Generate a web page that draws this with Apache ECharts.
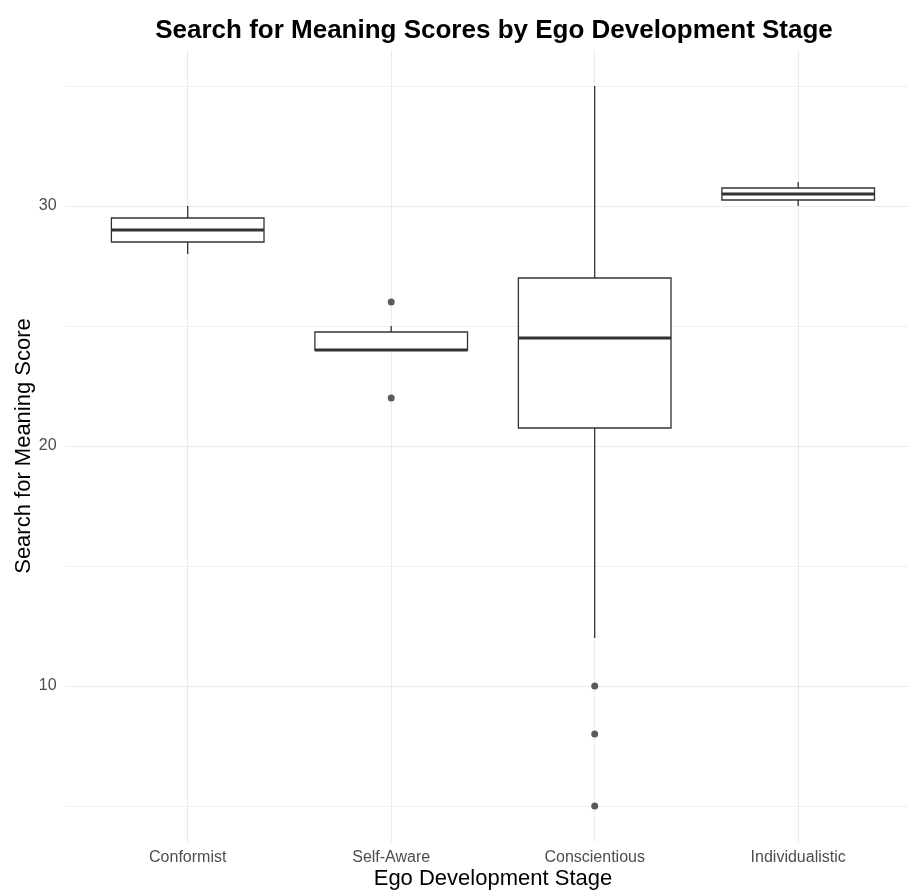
<!DOCTYPE html>
<html>
<head>
<meta charset="utf-8">
<title>Search for Meaning Scores by Ego Development Stage</title>
<script src="https://cdn.jsdelivr.net/npm/echarts@6/dist/echarts.min.js"></script>
<style>
  html, body { margin: 0; padding: 0; background: #ffffff; }
  #chart { width: 909px; height: 891px; }
</style>
</head>
<body>
<div id="chart"></div>
<script>
// Ego development stages (x positions 1..4)
const categories = ['Conformist', 'Self-Aware', 'Conscientious', 'Individualistic'];

// Five-number summaries per stage
const lowerWhisker = [28, 24, 12, 30];
const q1 = [28.5, 24, 20.75, 30.25];
const median = [29, 24, 24.5, 30.5];
const q3 = [29.5, 24.75, 27, 30.75];
const upperWhisker = [30, 25, 35, 31];

// Points beyond the whiskers: [stage, score]
const outlierStage = ['Self-Aware', 'Self-Aware', 'Conscientious', 'Conscientious', 'Conscientious'];
const outlierScore = [26, 22, 10, 8, 5];

// Axis ticks
const yMajorTicks = [10, 20, 30];
const yMinorTicks = [5, 15, 25, 35];

const FONT = '"Liberation Sans", Arial, Helvetica, sans-serif';
const INK = '#333333';
const BOX_WIDTH = 0.75; // in category units

const xOf = name => categories.indexOf(name) + 1;

const boxData = categories.map((c, i) => [i + 1, lowerWhisker[i], q1[i], median[i], q3[i], upperWhisker[i]]);
const outlierData = outlierStage.map((s, i) => [xOf(s), outlierScore[i]]);

function renderBox(params, api) {
  const x = api.value(0);
  const pLo = api.coord([x, api.value(1)]);
  const pQ1 = api.coord([x, api.value(2)]);
  const pMed = api.coord([x, api.value(3)]);
  const pQ3 = api.coord([x, api.value(4)]);
  const pHi = api.coord([x, api.value(5)]);
  const half = api.size([BOX_WIDTH, 0])[0] / 2;
  const line = { stroke: INK, lineWidth: 1.3 };
  return {
    type: 'group',
    children: [
      { type: 'line', shape: { x1: pHi[0], y1: pHi[1], x2: pQ3[0], y2: pQ3[1] }, style: line },
      { type: 'line', shape: { x1: pQ1[0], y1: pQ1[1], x2: pLo[0], y2: pLo[1] }, style: line },
      { type: 'rect', shape: { x: pQ3[0] - half, y: pQ3[1], width: half * 2, height: pQ1[1] - pQ3[1] },
        style: { fill: '#ffffff', stroke: INK, lineWidth: 1.3 } },
      { type: 'line', shape: { x1: pMed[0] - half, y1: pMed[1], x2: pMed[0] + half, y2: pMed[1] },
        style: { stroke: INK, lineWidth: 3 } }
    ]
  };
}

const gridLine = (color, width) => ({ color: color, width: width, type: 'solid' });

const chart = echarts.init(document.getElementById('chart'), null, { renderer: 'canvas' });
chart.setOption({
  animation: false,
  backgroundColor: '#ffffff',
  textStyle: { fontFamily: FONT },
  title: {
    text: 'Search for Meaning Scores by Ego Development Stage',
    left: 494,
    top: 18,
    padding: 0,
    textAlign: 'center',
    textStyle: { fontFamily: FONT, fontSize: 26, fontWeight: 'bold', color: '#000000' }
  },
  // the panel runs a little past the right edge of the canvas
  grid: { left: 65.6, right: -11.3, top: 50, bottom: 49, containLabel: false, outerBoundsMode: 'none' },
  xAxis: {
    type: 'value',
    min: 0.4,
    max: 4.6,
    name: 'Ego Development Stage',
    nameLocation: 'middle',
    nameGap: 26,
    nameMoveOverlap: false,
    nameTextStyle: { fontFamily: FONT, fontSize: 22, color: '#000000' },
    axisLine: { show: false },
    axisTick: { show: false },
    splitLine: { show: false },
    axisLabel: {
      customValues: [1, 2, 3, 4],
      formatter: v => categories[Math.round(v) - 1] || '',
      margin: 8,
      fontFamily: FONT,
      fontSize: 16,
      color: '#4d4d4d'
    }
  },
  yAxis: {
    type: 'value',
    min: 3.5,
    max: 36.5,
    name: 'Search for Meaning Score',
    nameLocation: 'middle',
    nameGap: 31,
    nameMoveOverlap: false,
    nameTextStyle: { fontFamily: FONT, fontSize: 22, color: '#000000' },
    axisLine: { show: false },
    axisTick: { show: false },
    splitLine: { show: false },
    axisLabel: {
      customValues: yMajorTicks,
      margin: 9,
      fontFamily: FONT,
      fontSize: 16,
      color: '#4d4d4d'
    }
  },
  series: [
    {
      // background grid lines drawn along the axis scales
      type: 'line',
      data: [],
      silent: true,
      z: 0,
      markLine: {
        silent: true,
        z: 0,
        symbol: 'none',
        animation: false,
        label: { show: false },
        emphasis: { disabled: true },
        data: [
          ...yMinorTicks.map(v => ({ yAxis: v, lineStyle: gridLine('#f0f0f0', 1) })),
          ...yMajorTicks.map(v => ({ yAxis: v, lineStyle: gridLine('#ebebeb', 1.1) })),
          ...categories.map((c, i) => ({ xAxis: i + 1, lineStyle: gridLine('#ebebeb', 1.1) }))
        ]
      }
    },
    {
      type: 'custom',
      name: 'boxes',
      renderItem: renderBox,
      data: boxData,
      encode: { x: 0, y: [1, 2, 3, 4, 5] },
      z: 2
    },
    {
      type: 'scatter',
      name: 'outliers',
      data: outlierData,
      symbol: 'circle',
      symbolSize: 7,
      itemStyle: { color: INK },
      z: 3
    }
  ]
});
</script>
</body>
</html>
